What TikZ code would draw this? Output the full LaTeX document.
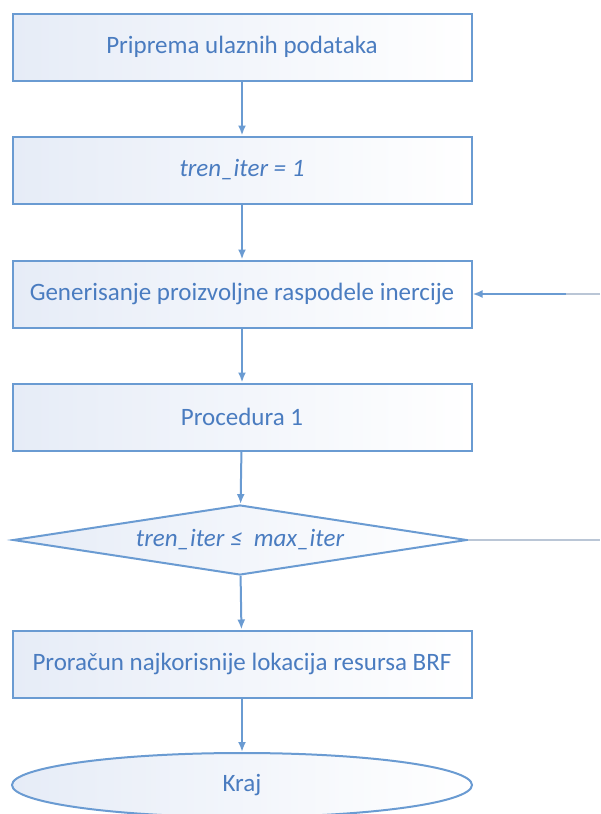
\documentclass[tikz,border=0pt]{standalone}
\usepackage{fontspec}
\setmainfont{Carlito}
\usepackage{tikz}
\usetikzlibrary{arrows.meta, shapes.geometric}
\definecolor{edgeblue}{HTML}{6A9BD2}
\definecolor{txtblue}{HTML}{4A7CC0}
\definecolor{boxfill}{HTML}{E6ECF7}
\definecolor{tailgray}{HTML}{BAC6D6}

\begin{document}
\begin{tikzpicture}[
    x=1pt, y=-1pt,
    stepbox/.style={draw=edgeblue, line width=2pt, left color=boxfill, right color=white,
                    minimum width=459pt, minimum height=67pt, inner sep=0pt,
                    text=txtblue, font=\fontsize{25}{30}\selectfont},
    cond/.style={stepbox, diamond, aspect=7, minimum width=454pt, minimum height=70pt},
    term/.style={stepbox, ellipse, minimum width=460pt, minimum height=64pt},
    arr/.style={-{Latex[length=10pt, width=8pt]}, line width=2pt, draw=edgeblue}
  ]
    \useasboundingbox (0,0) rectangle (600,814);

    \node[stepbox] (ulaz)  at (242,47)  {Priprema ulaznih podataka};
    \node[stepbox] (init)  at (242,170) {\itshape tren\_iter = 1};
    \node[stepbox] (gen)   at (242,294) {Generisanje proizvoljne raspodele inercije};
    \node[stepbox] (proc)  at (242,417) {Procedura 1};
    \node[cond]    (uslov) at (240,540) {\itshape tren\_iter ≤\ \ max\_iter};
    \node[stepbox] (brf)   at (242,664) {Proračun najkorisnije lokacija resursa BRF};
    \node[term]    (kraj)  at (242,785) {Kraj};

    \draw[arr] (ulaz) -- (init);
    \draw[arr] (init) -- (gen);
    \draw[arr] (gen) -- (proc);
    \draw[arr] (proc) -- (uslov);
    \draw[arr] (uslov) -- (brf);
    \draw[arr] (brf) -- (kraj);

    % povratna grana (van okvira slike)
    \coordinate (povrat) at (600,294);
    \coordinate (skret)  at (566,294);
    \coordinate (izlaz)  at (600,540);
    \draw[tailgray, line width=2pt] (povrat) -- (skret);
    \draw[arr] (skret) -- (gen.east);
    \draw[tailgray, line width=2pt] (uslov.east) -- (izlaz);
  \end{tikzpicture}
\end{document}
